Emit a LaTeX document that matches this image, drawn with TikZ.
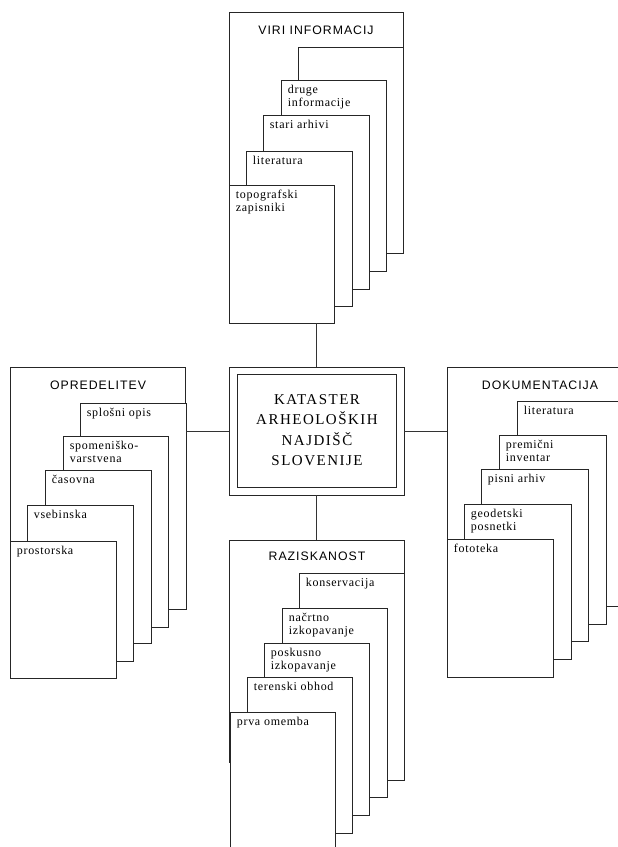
\documentclass[tikz,border=0pt]{standalone}
\usepackage{fontspec}
\setmainfont{Liberation Serif}
\newfontfamily\labfont[LetterSpace=6]{Liberation Serif}
\newfontfamily\hdfont[LetterSpace=8]{Liberation Sans}
\newfontfamily\ctrfont[LetterSpace=10]{Liberation Serif}
\usetikzlibrary{fit}
\tikzset{
  card/.style={draw=black!85, line width=0.7pt, fill=white, inner sep=0pt},
  lab/.style={font=\labfont\fontsize{12}{13}\selectfont, inner sep=0pt, anchor=base west, text=black},
  hd/.style={font=\hdfont\fontsize{12.3}{14}\selectfont, inner sep=0pt, text=black},
  conn/.style={draw=black!80, line width=0.7pt},
  frame/.style={draw=black!85, line width=0.7pt, inner sep=0pt}
}
\newcommand\mkcard[6]{%
  \node[card, fit={(#2,#3) (#4,#5)}] (#1) {};
  \node[lab] (#1l) at ([xshift=7pt,yshift=-14pt]#1.north west)
    {\vtop{\baselineskip=13pt\lineskiplimit=-6pt\halign{##\hfil\cr #6\crcr}}};}
\begin{document}
\begin{tikzpicture}[x=1pt,y=-1pt]
\useasboundingbox (0,0) rectangle (618,847);
\fill[white] (0,0) rectangle (618,847);
\clip (0,0) rectangle (618,847);

% ---------- top group: VIRI INFORMACIJ
\node[card, fit={(229,12) (403,236)}] (t0) {};
\node[hd] (t0l) at (316,30) {VIRI INFORMACIJ};
\node[card, fit={(298,47) (403,253)}] (t1) {};
\mkcard{t2}{281}{80}{386}{271}{druge\cr informacije}
\mkcard{t3}{263}{115}{369}{289}{stari arhivi}
\mkcard{t4}{246}{151}{352}{306}{literatura}
\mkcard{t5}{229}{185}{334}{323}{topografski\cr zapisniki}

% ---------- left group: OPREDELITEV
\node[card, fit={(10,367) (185,591)}] (l0) {};
\node[hd] (l0l) at (98,385) {OPREDELITEV};
\mkcard{l1}{80}{403}{186}{609}{splošni opis}
\mkcard{l2}{63}{436}{168}{627}{spomeniško-\cr varstvena}
\mkcard{l3}{45}{470}{151}{643}{časovna}
\mkcard{l4}{27}{505}{133}{661}{vsebinska}
\mkcard{l5}{10}{541}{116}{678}{prostorska}

% ---------- right group: DOKUMENTACIJA
\node[card, fit={(447,367) (630,591)}] (r0) {};
\node[hd] (r0l) at (540,385) {DOKUMENTACIJA};
\mkcard{r1}{517}{401}{624}{606}{literatura}
\mkcard{r2}{499}{435}{606}{624}{premični\cr inventar}
\mkcard{r3}{481}{469}{588}{641}{pisni arhiv}
\mkcard{r4}{464}{504}{571}{659}{geodetski\cr posnetki}
\mkcard{r5}{447}{539}{553}{677}{fototeka}

% ---------- bottom group: RAZISKANOST
\node[card, fit={(229,540) (404,762)}] (b0) {};
\node[hd] (b0l) at (317,556) {RAZISKANOST};
\mkcard{b1}{299}{573}{404}{780}{konservacija}
\mkcard{b2}{282}{608}{387}{797}{načrtno\cr izkopavanje}
\mkcard{b3}{264}{643}{369}{815}{poskusno\cr izkopavanje}
\mkcard{b4}{247}{677}{352}{833}{terenski obhod}
\mkcard{b5}{230}{712}{335}{852}{prva omemba}

% ---------- centre
\node[frame, fit={(229,367) (404,495)}] (ctr) {};
\node[frame, fit={(237,374) (396,487)}] (ctrin) {};
\node[font=\ctrfont\fontsize{15}{20.3}\selectfont, align=center, inner sep=0pt, text=black] (ctrt) at (317,430)
  {KATASTER\\ARHEOLOŠKIH\\NAJDIŠČ\\SLOVENIJE};

% ---------- connectors
\draw[conn] (ctr.north) -- (ctr.north |- t5.south);
\draw[conn] (ctr.south) -- (ctr.south |- b0.north);
\draw[conn] (ctr.west) -- (ctr.west -| l1.east);
\draw[conn] (ctr.east) -- (ctr.east -| r0.west);
\end{tikzpicture}
\end{document}
